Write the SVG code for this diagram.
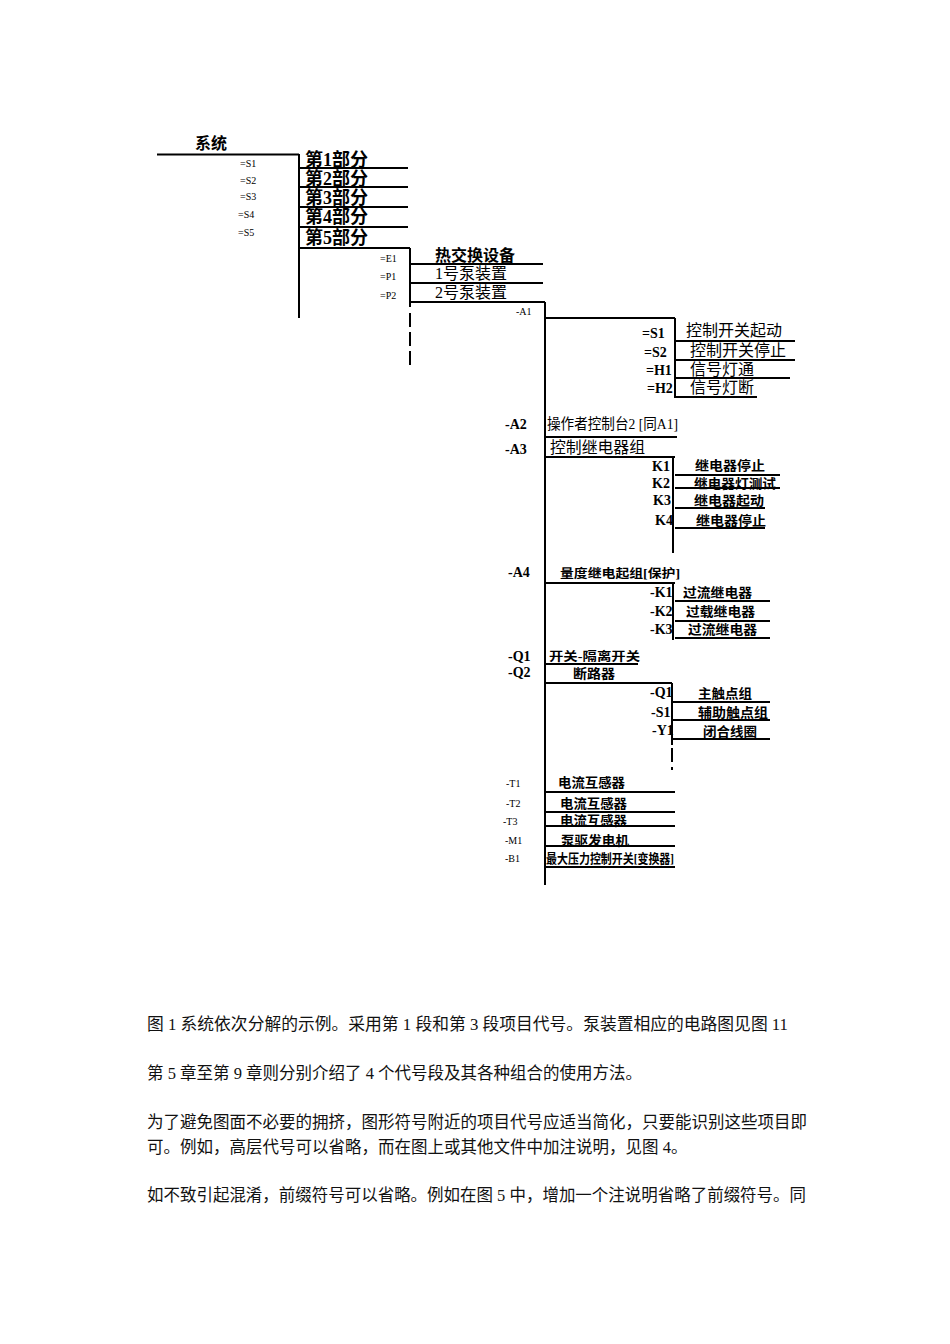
<svg xmlns="http://www.w3.org/2000/svg" width="950" height="1344" viewBox="0 0 950 1344">
<style>
.ln{stroke:#000;stroke-width:2;fill:none}
.dash{stroke:#000;stroke-width:2;fill:none;stroke-dasharray:14 5}
.t{font-family:"Liberation Serif","Noto Sans CJK SC",serif;fill:#000}
.b{font-weight:bold}
.sm{font-family:"Liberation Serif",serif;font-size:10px;fill:#000}
.lab{font-family:"Liberation Serif",serif;font-size:14px;font-weight:bold;fill:#000}
.cap{font-family:"Liberation Serif","Noto Sans CJK SC",serif;font-size:16.5px;fill:#111}
</style>
<rect width="950" height="1344" fill="#fff"/>
<g id="connectors">
<path class="ln" d="M157 154.5H299M299 154V318"/>
<path class="ln" d="M300 168H408M300 187H408M300 207H408M300 227H408M299 248H410"/>
<path class="ln" d="M410 248V307"/>
<path class="dash" d="M410 313V370"/>
<path class="ln" d="M411 264H543M411 283H543M411 302H545M545 302V885"/>
<path class="ln" d="M545 318H675M675 318V398"/>
<path class="ln" d="M675 341H795M675 360H795M675 378H790M675 397H757"/>
<path class="ln" d="M545 437H677M545 457H675M673 457V553"/>
<path class="ln" d="M675 475H780M675 488H780M675 508H765M675 528H765"/>
<path class="ln" d="M545 583H675M673 583V640"/>
<path class="ln" d="M675 601H770M675 621H770M675 638H770"/>
<path class="ln" d="M545 664H638M545 683H672M672 683V745"/>
<path class="dash" d="M672 748V770"/>
<path class="ln" d="M673 702H770M673 720H770M673 739H770"/>
<path class="ln" d="M545 792H675M545 812H675M545 826H675M545 846H675M545 867H675"/>
</g>
<g id="n-system"><text class="t b" x="195" y="149" font-size="16">系统</text></g>
<g id="n-parts">
<text class="sm" x="240" y="167">=S1</text>
<text class="sm" x="240" y="184">=S2</text>
<text class="sm" x="240" y="200">=S3</text>
<text class="sm" x="238" y="218">=S4</text>
<text class="sm" x="238" y="236">=S5</text>
<text class="t b" x="305" y="166" font-size="18">第1部分</text>
<text class="t b" x="305" y="185" font-size="18">第2部分</text>
<text class="t b" x="305" y="204" font-size="18">第3部分</text>
<text class="t b" x="305" y="223" font-size="18">第4部分</text>
<text class="t b" x="305" y="244" font-size="18">第5部分</text>
</g>
<g id="n-equip">
<text class="sm" x="380" y="262" font-size="9">=E1</text>
<text class="sm" x="380" y="280" font-size="9">=P1</text>
<text class="sm" x="380" y="299" font-size="9">=P2</text>
<text class="t b" x="435" y="261" font-size="16">热交换设备</text>
<text class="t" x="435" y="279" font-size="16">1号泵装置</text>
<text class="t" x="435" y="298" font-size="16">2号泵装置</text>
</g>
<g id="n-a1">
<text class="sm" x="516" y="315" font-size="9">-A1</text>
<text class="lab" x="642" y="338">=S1</text>
<text class="lab" x="644" y="357">=S2</text>
<text class="lab" x="646" y="375">=H1</text>
<text class="lab" x="647" y="393">=H2</text>
<text class="t" x="686" y="336" font-size="16">控制开关起动</text>
<text class="t" x="690" y="356" font-size="16">控制开关停止</text>
<text class="t" x="690" y="375" font-size="16">信号灯通</text>
<text class="t" x="690" y="393" font-size="16">信号灯断</text>
</g>
<g id="n-a2a3">
<text class="lab" x="505" y="429" font-size="13">-A2</text>
<text class="lab" x="505" y="454" font-size="13">-A3</text>
<text class="t" x="547" y="429" font-size="15" textLength="131" lengthAdjust="spacingAndGlyphs">操作者控制台2 [同A1]</text>
<text class="t" x="550" y="453" font-size="16" textLength="95" lengthAdjust="spacingAndGlyphs">控制继电器组</text>
<text class="lab" x="652" y="471" font-size="12">K1</text>
<text class="lab" x="652" y="488" font-size="12">K2</text>
<text class="lab" x="653" y="505" font-size="12">K3</text>
<text class="lab" x="655" y="525" font-size="12">K4</text>
<text class="t b" x="695" y="470" font-size="13" textLength="70" lengthAdjust="spacingAndGlyphs">继电器停止</text>
<text class="t b" x="694" y="488" font-size="13" textLength="82" lengthAdjust="spacingAndGlyphs">继电器灯测试</text>
<text class="t b" x="694" y="505" font-size="13" textLength="70" lengthAdjust="spacingAndGlyphs">继电器起动</text>
<text class="t b" x="696" y="525" font-size="13" textLength="70" lengthAdjust="spacingAndGlyphs">继电器停止</text>
</g>
<g id="n-a4">
<text class="lab" x="508" y="577" font-size="12">-A4</text>
<text class="t b" x="560" y="578" font-size="12" textLength="120" lengthAdjust="spacingAndGlyphs">量度继电起组[保护]</text>
<text class="lab" x="650" y="597" font-size="12">-K1</text>
<text class="lab" x="650" y="616" font-size="12">-K2</text>
<text class="lab" x="650" y="634" font-size="12">-K3</text>
<text class="t b" x="683" y="597" font-size="13" textLength="69" lengthAdjust="spacingAndGlyphs">过流继电器</text>
<text class="t b" x="686" y="616" font-size="13" textLength="69" lengthAdjust="spacingAndGlyphs">过载继电器</text>
<text class="t b" x="688" y="634" font-size="13" textLength="69" lengthAdjust="spacingAndGlyphs">过流继电器</text>
</g>
<g id="n-q">
<text class="lab" x="508" y="661" font-size="12">-Q1</text>
<text class="lab" x="508" y="677" font-size="12">-Q2</text>
<text class="t b" x="549" y="661" font-size="12" textLength="91" lengthAdjust="spacingAndGlyphs">开关-隔离开关</text>
<text class="t b" x="573" y="678" font-size="13" textLength="42" lengthAdjust="spacingAndGlyphs">断路器</text>
<text class="lab" x="650" y="697" font-size="12">-Q1</text>
<text class="lab" x="651" y="717" font-size="12">-S1</text>
<text class="lab" x="652" y="735" font-size="12">-Y1</text>
<text class="t b" x="698" y="698" font-size="13" textLength="54" lengthAdjust="spacingAndGlyphs">主触点组</text>
<text class="t b" x="698" y="717" font-size="13" textLength="70" lengthAdjust="spacingAndGlyphs">辅助触点组</text>
<text class="t b" x="703" y="736" font-size="13" textLength="54" lengthAdjust="spacingAndGlyphs">闭合线圈</text>
</g>
<g id="n-t">
<text class="sm" x="506" y="787">-T1</text>
<text class="sm" x="506" y="807">-T2</text>
<text class="sm" x="503" y="825">-T3</text>
<text class="sm" x="505" y="844">-M1</text>
<text class="sm" x="505" y="862">-B1</text>
<text class="t b" x="558" y="787" font-size="13" textLength="67" lengthAdjust="spacingAndGlyphs">电流互感器</text>
<text class="t b" x="560" y="808" font-size="13" textLength="67" lengthAdjust="spacingAndGlyphs">电流互感器</text>
<text class="t b" x="560" y="825" font-size="13" textLength="67" lengthAdjust="spacingAndGlyphs">电流互感器</text>
<text class="t b" x="561" y="845" font-size="13" textLength="68" lengthAdjust="spacingAndGlyphs">泵驱发电机</text>
<text class="t b" x="546" y="863" font-size="13" textLength="128" lengthAdjust="spacingAndGlyphs">最大压力控制开关[变换器]</text>
</g>
<g id="caption">
<text class="cap" x="147" y="1030" textLength="641" lengthAdjust="spacingAndGlyphs">图 1  系统依次分解的示例。采用第 1 段和第 3 段项目代号。泵装置相应的电路图见图 11</text>
<text class="cap" x="147" y="1079">第 5 章至第 9 章则分别介绍了 4 个代号段及其各种组合的使用方法。</text>
<text class="cap" x="147" y="1128" textLength="660" lengthAdjust="spacingAndGlyphs">为了避免图面不必要的拥挤，图形符号附近的项目代号应适当简化，只要能识别这些项目即</text>
<text class="cap" x="147" y="1153">可。例如，高层代号可以省略，而在图上或其他文件中加注说明，见图 4。</text>
<text class="cap" x="147" y="1201" textLength="659" lengthAdjust="spacingAndGlyphs">如不致引起混淆，前缀符号可以省略。例如在图 5 中，增加一个注说明省略了前缀符号。同</text>
</g>
</svg>
